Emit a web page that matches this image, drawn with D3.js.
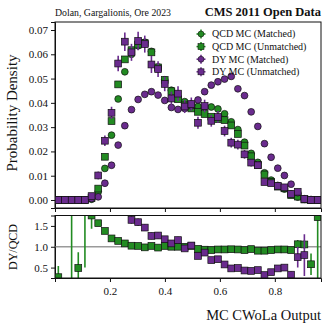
<!DOCTYPE html>
<html>
<head>
<meta charset="utf-8">
<script src="https://cdn.jsdelivr.net/npm/d3@7"></script>
<style>
  body { margin: 0; background: #fff; }
  text { font-family: "Liberation Serif", "DejaVu Serif", serif; fill: #111; }
</style>
</head>
<body>
<div id="chart"></div>
<script>
// bin centres of the MC CWoLa output histogram (40 bins)
var binCentres = [0.0121, 0.0363, 0.0605, 0.0847, 0.1089, 0.1331, 0.1573, 0.1815, 0.2057, 0.2299,
  0.2541, 0.2783, 0.3025, 0.3267, 0.3509, 0.3751, 0.3993, 0.4235, 0.4477, 0.4719,
  0.4961, 0.5203, 0.5445, 0.5687, 0.5929, 0.6171, 0.6413, 0.6655, 0.6897, 0.7139,
  0.7381, 0.7623, 0.7865, 0.8107, 0.8349, 0.8591, 0.8833, 0.9075, 0.9317, 0.9559];

var qcdMatched = [0, 0, 0, 0, 0, 0.0003, 0.0034, 0.0130, 0.0267, 0.0416,
  0.0528, 0.0600, 0.0635, 0.0650, 0.0612, 0.0548, 0.0495, 0.0452, 0.0420, 0.0405,
  0.0395, 0.0385, 0.0383, 0.0383, 0.0375, 0.0355, 0.0322, 0.0290, 0.0238, 0.0192,
  0.0155, 0.0112, 0.0082, 0.0060, 0.0045, 0.0025, 0.0012, 0.0003, 0, 0];

var qcdUnmatched = [0, 0, 0, 0, 0, 0.0008, 0.0047, 0.0178, 0.0325, 0.0476,
  0.0579, 0.0617, 0.0640, 0.0646, 0.0608, 0.0546, 0.0494, 0.0448, 0.0415, 0.0390,
  0.0377, 0.0363, 0.0354, 0.0343, 0.0333, 0.0329, 0.0307, 0.0272, 0.0224, 0.0180,
  0.0144, 0.0105, 0.0075, 0.0055, 0.0048, 0.0020, 0.0014, 0.0002, 0, 0];

var dyMatched = [0, 0, 0, 0, 0, 0.0006, 0.0013, 0.0069, 0.0143, 0.0226,
  0.0306, 0.0372, 0.0414, 0.0435, 0.0446, 0.0432, 0.0410, 0.0381, 0.0373, 0.0377,
  0.0388, 0.0412, 0.0446, 0.0473, 0.0487, 0.0498, 0.0509, 0.0458, 0.0430, 0.0363,
  0.0303, 0.0232, 0.0176, 0.0131, 0.0101, 0.0065, 0.0030, 0.0005, 0.0002, 0];

var dyUnmatched = [0, 0, 0, 0, 0, 0.0016, 0.0101, 0.0244, 0.0359, 0.0562,
  0.0652, 0.0608, 0.0655, 0.0642, 0.0558, 0.0539, 0.0478, 0.0418, 0.0438, 0.0385,
  0.0395, 0.0318, 0.0387, 0.0326, 0.0342, 0.0284, 0.0236, 0.0228, 0.0188, 0.0154,
  0.0143, 0.0074, 0.0069, 0.0058, 0.0052, 0.0025, 0.0034, 0.0004, 0, 0];

var dyUnmatchedErr = [0, 0, 0, 0, 0, 0.0008, 0.0016, 0.0022, 0.0025, 0.0032,
  0.0038, 0.0035, 0.0038, 0.0035, 0.0035, 0.0032, 0.0030, 0.0028, 0.0030, 0.0027,
  0.0027, 0.0025, 0.0026, 0.0024, 0.0024, 0.0022, 0.0020, 0.0020, 0.0018, 0.0016,
  0.0015, 0.0012, 0.0011, 0.0010, 0.0010, 0.0007, 0.0008, 0.0003, 0, 0];

// ratio panel (DY/QCD)
var ratioUnmatched = [0.27, null, 2.2, 0.49, 2.2, 1.75, 1.565, 1.38, 1.20, 1.14,
  1.08, 1.025, 1.02, 0.985, 1.02, 0.98, 1.02, 1.00, 1.00, 1.00,
  1.02, 0.95, 0.93, 0.92, 0.935, 0.935, 0.94, 0.935, 0.92, 0.944,
  0.905, 0.905, 0.92, 0.935, 0.935, 0.92, 1.06, 1.055, 0.58, 1.71];
var ratioUnmatchedErr = [0.27, null, 2.6, 0.38, 1.7, 0.32, 0.05, 0.04, 0.03, 0.02,
  0.02, 0.02, 0.02, 0.02, 0.02, 0.02, 0.02, 0.02, 0.02, 0.02,
  0.02, 0.02, 0.02, 0.02, 0.02, 0.02, 0.02, 0.02, 0.02, 0.03,
  0.03, 0.03, 0.04, 0.04, 0.05, 0.06, 0.10, 0.10, 0.26, 1.6];

var ratioMatched = [null, null, null, null, null, null, null, null, null, null,
  null, 1.645, 1.59, 1.46, 1.26, 1.27, 1.18, 1.08, 1.16, 0.96,
  1.03, 0.78, 0.86, 0.68, 0.70, 0.575, 0.48, 0.49, 0.43, 0.42,
  0.44, 0.32, 0.39, 0.48, 0.50, 0.33, 0.75, 0.80, null, null];
var ratioMatchedErr = [null, null, null, null, null, null, null, null, null, null,
  null, 0.09, 0.09, 0.08, 0.08, 0.08, 0.07, 0.07, 0.08, 0.06,
  0.06, 0.05, 0.05, 0.05, 0.04, 0.04, 0.04, 0.04, 0.04, 0.04,
  0.04, 0.04, 0.05, 0.06, 0.07, 0.08, 0.25, 0.5, null, null];

var yTicksMain = [0, 0.01, 0.02, 0.03, 0.04, 0.05, 0.06, 0.07];
var yTicksRatio = [0.5, 1.0, 1.5];
var xTicks = [0.2, 0.4, 0.6, 0.8];
var legendLabels = ["QCD MC (Matched)", "QCD MC (Unmatched)", "DY MC (Matched)", "DY MC (Unmatched)"];

var green = "#228b22";
var purple = "#6a2b8e";

var width = 329, height = 330;
var svg = d3.select("#chart").append("svg")
    .attr("width", width)
    .attr("height", height);

var x = d3.scaleLinear().domain([0, 0.968]).range([55, 321]);
var y = d3.scaleLinear().domain([-0.0033, 0.0733]).range([208, 22]);
var yr = d3.scaleLinear().domain([0.25, 1.75]).range([278, 215.5]);

// clip paths for both panels
var defs = svg.append("defs");
defs.append("clipPath").attr("id", "clipMain").append("rect")
    .attr("x", 55).attr("y", 22).attr("width", 266).attr("height", 186);
defs.append("clipPath").attr("id", "clipRatio").append("rect")
    .attr("x", 55).attr("y", 215.5).attr("width", 266).attr("height", 62.5);

// ---- main panel ----
svg.append("g")
    .attr("transform", "translate(55,0)")
    .call(d3.axisLeft(y).tickValues(yTicksMain).tickFormat(d3.format(".2f")).tickSize(4).tickPadding(3));
svg.append("g")
    .attr("transform", "translate(0,208)")
    .call(d3.axisBottom(x).tickValues(xTicks).tickFormat("").tickSize(4));

var main = svg.append("g").attr("clip-path", "url(#clipMain)");

function drawCircles(g, vals, color) {
  g.selectAll(null)
    .data(binCentres.map(function(c, i) { return [c, vals[i]]; }))
    .enter().append("circle")
    .attr("cx", function(d) { return x(d[0]); })
    .attr("cy", function(d) { return y(d[1]); })
    .attr("r", 3.4)
    .attr("fill", color)
    .attr("stroke", "#111")
    .attr("stroke-width", 0.7);
}

function drawSquares(g, scale, vals, color, errs) {
  var pts = binCentres.map(function(c, i) { return { x: c, v: vals[i], e: errs ? errs[i] : null }; })
    .filter(function(d) { return d.v !== null; });
  if (errs) {
    g.selectAll(null).data(pts.filter(function(d) { return d.e; }))
      .enter().append("line")
      .attr("x1", function(d) { return x(d.x); })
      .attr("x2", function(d) { return x(d.x); })
      .attr("y1", function(d) { return scale(d.v - d.e); })
      .attr("y2", function(d) { return scale(d.v + d.e); })
      .attr("stroke", color)
      .attr("stroke-width", 1.6);
  }
  g.selectAll(null).data(pts)
    .enter().append("rect")
    .attr("x", function(d) { return x(d.x) - 3.4; })
    .attr("y", function(d) { return scale(d.v) - 3.4; })
    .attr("width", 6.8)
    .attr("height", 6.8)
    .attr("fill", color)
    .attr("stroke", "#111")
    .attr("stroke-width", 0.7);
}

drawCircles(main, qcdMatched, green);
drawSquares(main, y, qcdUnmatched, green, null);
drawCircles(main, dyMatched, purple);
drawSquares(main, y, dyUnmatched, purple, dyUnmatchedErr);

svg.append("rect")
    .attr("x", 55).attr("y", 22).attr("width", 266).attr("height", 186)
    .attr("fill", "none").attr("stroke", "#111").attr("stroke-width", 1);

// legend
var legend = svg.append("g");
var legendColors = [green, green, purple, purple];
var legendShapes = ["circle", "square", "circle", "square"];
legendLabels.forEach(function(label, i) {
  var ly = 34 + i * 12.6;
  var lg = legend.append("g").attr("transform", "translate(201," + ly + ")");
  lg.append("line").attr("x1", -4.5).attr("x2", 4.5).attr("y1", 0).attr("y2", 0)
    .attr("stroke", legendColors[i]).attr("stroke-width", 1.5);
  lg.append("line").attr("x1", 0).attr("x2", 0).attr("y1", -4.5).attr("y2", 4.5)
    .attr("stroke", legendColors[i]).attr("stroke-width", 1.5);
  if (legendShapes[i] === "circle") {
    lg.append("circle").attr("r", 3).attr("fill", legendColors[i])
      .attr("stroke", "#111").attr("stroke-width", 0.6);
  } else {
    lg.append("rect").attr("x", -3).attr("y", -3).attr("width", 6).attr("height", 6)
      .attr("fill", legendColors[i]).attr("stroke", "#111").attr("stroke-width", 0.6);
  }
  lg.append("text").attr("x", 11).attr("y", 3.4)
    .attr("font-size", "10px")
    .text(label);
});

// ---- ratio panel ----
svg.append("g")
    .attr("transform", "translate(55,0)")
    .call(d3.axisLeft(yr).tickValues(yTicksRatio).tickFormat(d3.format(".1f")).tickSize(4).tickPadding(3));
svg.append("g")
    .attr("transform", "translate(0,278)")
    .call(d3.axisBottom(x).tickValues(xTicks).tickFormat(d3.format(".1f")).tickSize(4).tickPadding(5));

var ratio = svg.append("g").attr("clip-path", "url(#clipRatio)");
ratio.append("line")
    .attr("x1", 55).attr("x2", 321)
    .attr("y1", yr(1)).attr("y2", yr(1))
    .attr("stroke", "#9a9a9a").attr("stroke-width", 1.5);

drawSquares(ratio, yr, ratioUnmatched, green, ratioUnmatchedErr);
drawSquares(ratio, yr, ratioMatched, purple, ratioMatchedErr);

svg.append("rect")
    .attr("x", 55).attr("y", 215.5).attr("width", 266).attr("height", 62.5)
    .attr("fill", "none").attr("stroke", "#111").attr("stroke-width", 1);

// axis styling
svg.selectAll(".tick text").attr("font-size", "11px").style("font-family", "'Liberation Serif', serif");
svg.selectAll(".domain").attr("stroke", "#111");
svg.selectAll(".tick line").attr("stroke", "#111");

// labels
svg.append("text")
    .attr("transform", "translate(17,113) rotate(-90)")
    .attr("text-anchor", "middle")
    .attr("font-size", "15px")
    .text("Probability Density");
svg.append("text")
    .attr("transform", "translate(17,247) rotate(-90)")
    .attr("text-anchor", "middle")
    .attr("font-size", "12px")
    .text("DY/QCD");
svg.append("text")
    .attr("x", 321).attr("y", 320)
    .attr("text-anchor", "end")
    .attr("font-size", "14.5px")
    .text("MC CWoLa Output");
svg.append("text")
    .attr("x", 55).attr("y", 16)
    .attr("font-size", "9.8px")
    .attr("fill", "#333")
    .text("Dolan, Gargalionis, Ore 2023");
svg.append("text")
    .attr("x", 321).attr("y", 16)
    .attr("text-anchor", "end")
    .attr("font-size", "12.5px")
    .attr("font-weight", "bold")
    .text("CMS 2011 Open Data");
</script>
</body>
</html>
